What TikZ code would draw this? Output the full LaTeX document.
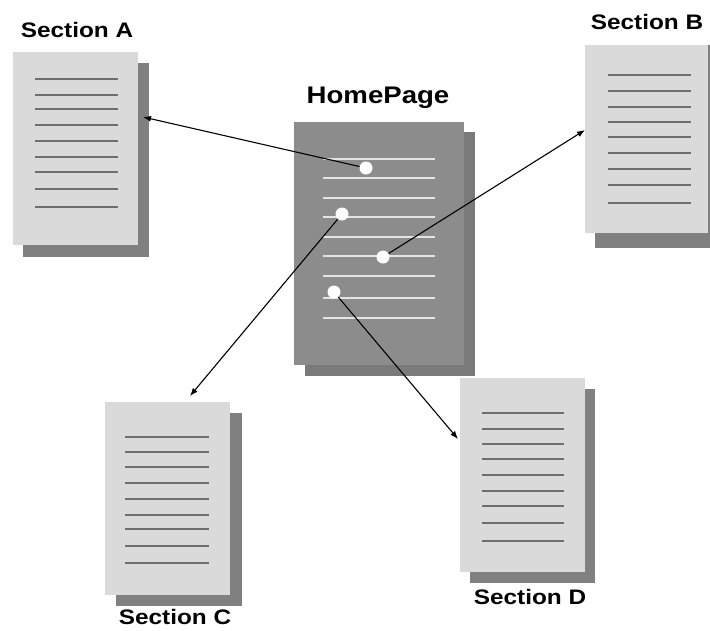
\documentclass[tikz,border=0pt]{standalone}
\usepackage{fontspec}
\setmainfont{Liberation Sans}
\usetikzlibrary{arrows.meta}
\definecolor{pagefill}{HTML}{DADADA}
\definecolor{pageshade}{HTML}{808080}
\definecolor{pageline}{HTML}{6E6E6E}
\definecolor{homefill}{HTML}{8C8C8C}
\definecolor{homeshade}{HTML}{7A7A7A}
\definecolor{homeline}{HTML}{E4E4E4}
\begin{document}
\begin{tikzpicture}[x=1pt,y=-1pt,
  box/.style={draw=none,inner sep=0pt,outer sep=0pt,anchor=north west},
  sheet/.style={box,fill=pagefill},
  shade/.style={box,fill=pageshade},
  homesheet/.style={box,fill=homefill},
  homeshadow/.style={box,fill=homeshade},
  rule/.style={draw=pageline,line width=1.8pt},
  homerule/.style={draw=homeline,line width=1.8pt},
  caption/.style={font=\bfseries\fontsize{21}{21}\selectfont,inner sep=0pt},
  link/.style={circle,fill=white,draw=none,minimum size=13pt,inner sep=0pt},
  arr/.style={draw=black,line width=1.1pt,-{Latex[length=8pt,width=6pt]}}]
\useasboundingbox[fill=white] (0,0) rectangle (710,630);

% Section A
\node[shade,minimum width=126pt,minimum height=194pt] (shA) at (23,63) {};
\node[sheet,minimum width=125pt,minimum height=193pt] (secA) at (13,52) {};
\foreach \y in {79,95,109,125,141,157,172,189,207}
  \draw[rule] (35,\y) -- (118,\y);
\node[caption] (labA) at (77,30) {\scalebox{1.16}[1]{Section A}};

% Section B
\node[shade,minimum width=126pt,minimum height=203pt] (shB) at (595,45) {};
\node[sheet,minimum width=123pt,minimum height=188pt] (secB) at (585,45) {};
\foreach \y in {75,91,107,122,137,153,169,185,203}
  \draw[rule] (608,\y) -- (691,\y);
\node[caption] (labB) at (647,22) {\scalebox{1.16}[1]{Section B}};

% Section C
\node[shade,minimum width=126pt,minimum height=193pt] (shC) at (116,413) {};
\node[sheet,minimum width=125pt,minimum height=193pt] (secC) at (105,402) {};
\foreach \y in {437,452,467,483,499,515,529,546,563}
  \draw[rule] (125,\y) -- (209,\y);
\node[caption] (labC) at (175,617) {\scalebox{1.16}[1]{Section C}};

% Section D
\node[shade,minimum width=125pt,minimum height=194pt] (shD) at (470,389) {};
\node[sheet,minimum width=125pt,minimum height=194pt] (secD) at (460,378) {};
\foreach \y in {413,429,444,459,475,491,506,523,541}
  \draw[rule] (482,\y) -- (564,\y);
\node[caption] (labD) at (530,597) {\scalebox{1.16}[1]{Section D}};

% HomePage
\node[homeshadow,minimum width=170pt,minimum height=244pt] (shH) at (305,132) {};
\node[homesheet,minimum width=170pt,minimum height=243pt] (home) at (294,122) {};
\foreach \y in {159,178,198,217,237,256,276,298,318}
  \draw[homerule] (323,\y) -- (435,\y);
\node[caption,font=\bfseries\fontsize{24}{24}\selectfont] (labH) at (378,98) {\scalebox{1.15}[1]{HomePage}};

% link anchors on the home page
\node[link] (dA) at (366,168) {};
\node[link] (dC) at (342,214) {};
\node[link] (dB) at (383,257) {};
\node[link] (dD) at (334,292) {};

% arrow ends at the section pages
\coordinate (tA) at (143,117);
\coordinate (tB) at (585,130);
\coordinate (tC) at (190,396);
\coordinate (tD) at (458,439);

\draw[arr] (dA) -- (tA);
\draw[arr] (dB) -- (tB);
\draw[arr] (dC) -- (tC);
\draw[arr] (dD) -- (tD);
\end{tikzpicture}
\end{document}
